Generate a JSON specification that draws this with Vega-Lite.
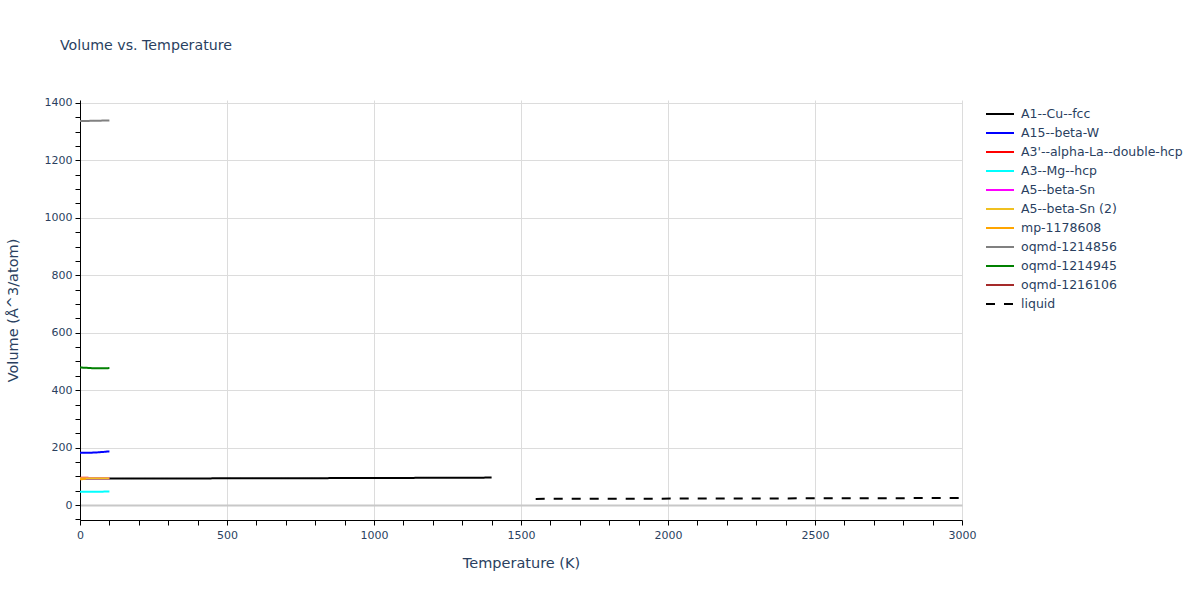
{
  "$schema": "https://vega.github.io/schema/vega-lite/v6.json",
  "width": 882,
  "height": 420,
  "autosize": {"type": "none"},
  "padding": {"left": 80, "top": 100, "right": 238, "bottom": 80},
  "background": "white",
  "config": {
    "view": {"stroke": null},
    "font": "DejaVu Sans"
  },
  "title": {
    "text": "Volume vs. Temperature",
    "anchor": "start",
    "frame": "group",
    "dx": -20,
    "offset": 44,
    "fontSize": 14.2,
    "fontWeight": "normal",
    "font": "DejaVu Sans",
    "color": "#2a3f5f"
  },
  "data": {
    "values": [
      {"name": "A1--Cu--fcc", "T": 0, "V": 92.0},
      {"name": "A1--Cu--fcc", "T": 100, "V": 92.3},
      {"name": "A1--Cu--fcc", "T": 300, "V": 92.6},
      {"name": "A1--Cu--fcc", "T": 500, "V": 93.0},
      {"name": "A1--Cu--fcc", "T": 700, "V": 93.4},
      {"name": "A1--Cu--fcc", "T": 900, "V": 93.9},
      {"name": "A1--Cu--fcc", "T": 1100, "V": 94.5},
      {"name": "A1--Cu--fcc", "T": 1300, "V": 95.2},
      {"name": "A1--Cu--fcc", "T": 1400, "V": 95.6},
      {"name": "A15--beta-W", "T": 0, "V": 182.0},
      {"name": "A15--beta-W", "T": 20, "V": 182.0},
      {"name": "A15--beta-W", "T": 40, "V": 182.4},
      {"name": "A15--beta-W", "T": 60, "V": 183.4},
      {"name": "A15--beta-W", "T": 80, "V": 185.0},
      {"name": "A15--beta-W", "T": 100, "V": 187.0},
      {"name": "A3'--alpha-La--double-hcp", "T": 0, "V": 95.5},
      {"name": "A3'--alpha-La--double-hcp", "T": 15, "V": 95.2},
      {"name": "A3'--alpha-La--double-hcp", "T": 30, "V": 94.6},
      {"name": "A3--Mg--hcp", "T": 0, "V": 46.5},
      {"name": "A3--Mg--hcp", "T": 50, "V": 46.6},
      {"name": "A3--Mg--hcp", "T": 100, "V": 46.9},
      {"name": "A5--beta-Sn", "T": 0, "V": 93.5},
      {"name": "A5--beta-Sn", "T": 50, "V": 93.5},
      {"name": "A5--beta-Sn", "T": 100, "V": 93.6},
      {"name": "A5--beta-Sn (2)", "T": 0, "V": 93.5},
      {"name": "A5--beta-Sn (2)", "T": 50, "V": 93.5},
      {"name": "A5--beta-Sn (2)", "T": 100, "V": 93.6},
      {"name": "mp-1178608", "T": 0, "V": 89.5},
      {"name": "mp-1178608", "T": 10, "V": 90.5},
      {"name": "mp-1178608", "T": 20, "V": 91.8},
      {"name": "oqmd-1214856", "T": 0, "V": 1337.0},
      {"name": "oqmd-1214856", "T": 50, "V": 1337.5},
      {"name": "oqmd-1214856", "T": 100, "V": 1339.0},
      {"name": "oqmd-1214945", "T": 0, "V": 479.0},
      {"name": "oqmd-1214945", "T": 20, "V": 477.8},
      {"name": "oqmd-1214945", "T": 40, "V": 476.6},
      {"name": "oqmd-1214945", "T": 60, "V": 476.0},
      {"name": "oqmd-1214945", "T": 80, "V": 476.0},
      {"name": "oqmd-1214945", "T": 100, "V": 476.8},
      {"name": "oqmd-1216106", "T": 0, "V": 93.5},
      {"name": "liquid", "T": 1550, "V": 21.5},
      {"name": "liquid", "T": 1800, "V": 22.0},
      {"name": "liquid", "T": 2100, "V": 22.6},
      {"name": "liquid", "T": 2400, "V": 23.2},
      {"name": "liquid", "T": 2700, "V": 23.9},
      {"name": "liquid", "T": 3000, "V": 24.6}
    ]
  },
  "mark": {"type": "line", "strokeWidth": 2, "clip": true},
  "encoding": {
    "x": {
      "field": "T",
      "type": "quantitative",
      "scale": {"domain": [0, 3000], "nice": false, "zero": false},
      "axis": {
        "title": "Temperature (K)",
        "values": [0, 100, 200, 300, 400, 500, 600, 700, 800, 900, 1000, 1100, 1200, 1300, 1400, 1500, 1600, 1700, 1800, 1900, 2000, 2100, 2200, 2300, 2400, 2500, 2600, 2700, 2800, 2900, 3000],
        "labelExpr": "datum.value % 500 === 0 ? datum.label : ''",
        "format": "d",
        "gridColor": "#dcdcdc",
        "gridOpacity": {"condition": {"test": "datum.value % 500 === 0", "value": 1}, "value": 0},
        "domainColor": "black",
        "tickColor": "black",
        "tickSize": 5,
        "labelFont": "DejaVu Sans",
        "labelFontSize": 11,
        "labelColor": "#2a3f5f",
        "labelPadding": 4,
        "labelFlush": false,
        "titleFont": "DejaVu Sans",
        "titleFontSize": 14.5,
        "titleFontWeight": "normal",
        "titleColor": "#2a3f5f",
        "titlePadding": 16
      }
    },
    "y": {
      "field": "V",
      "type": "quantitative",
      "scale": {"domain": [-52, 1410], "nice": false, "zero": false},
      "axis": {
        "title": "Volume (Å^3/atom)",
        "values": [-50, 0, 50, 100, 150, 200, 250, 300, 350, 400, 450, 500, 550, 600, 650, 700, 750, 800, 850, 900, 950, 1000, 1050, 1100, 1150, 1200, 1250, 1300, 1350, 1400],
        "labelExpr": "datum.value % 200 === 0 ? datum.label : ''",
        "format": "d",
        "gridColor": {"condition": {"test": "datum.value === 0", "value": "#c8c8c8"}, "value": "#dcdcdc"},
        "gridWidth": {"condition": {"test": "datum.value === 0", "value": 2}, "value": 1},
        "gridOpacity": {"condition": {"test": "datum.value % 200 === 0", "value": 1}, "value": 0},
        "domainColor": "black",
        "tickColor": "black",
        "tickSize": 5,
        "labelFont": "DejaVu Sans",
        "labelFontSize": 11,
        "labelColor": "#2a3f5f",
        "labelPadding": 3,
        "titleFont": "DejaVu Sans",
        "titleFontSize": 14.5,
        "titleFontWeight": "normal",
        "titleColor": "#2a3f5f",
        "titlePadding": 24
      }
    },
    "color": {
      "field": "name",
      "type": "nominal",
      "scale": {
        "domain": ["A1--Cu--fcc", "A15--beta-W", "A3'--alpha-La--double-hcp", "A3--Mg--hcp", "A5--beta-Sn", "A5--beta-Sn (2)", "mp-1178608", "oqmd-1214856", "oqmd-1214945", "oqmd-1216106", "liquid"],
        "range": ["black", "blue", "red", "cyan", "magenta", "#f0c020", "orange", "gray", "green", "brown", "black"]
      },
      "legend": {
        "title": null,
        "orient": "none",
        "legendX": 905,
        "legendY": 6.5,
        "symbolType": "stroke",
        "symbolSize": 784,
        "symbolStrokeWidth": 2,
        "rowPadding": 4,
        "labelFont": "DejaVu Sans",
        "labelFontSize": 12.5,
        "labelColor": "#2a3f5f",
        "labelOffset": 6,
        "labelLimit": 300,
        "clipHeight": 15
      }
    },
    "strokeDash": {
      "field": "name",
      "type": "nominal",
      "scale": {
        "domain": ["A1--Cu--fcc", "A15--beta-W", "A3'--alpha-La--double-hcp", "A3--Mg--hcp", "A5--beta-Sn", "A5--beta-Sn (2)", "mp-1178608", "oqmd-1214856", "oqmd-1214945", "oqmd-1216106", "liquid"],
        "range": [[1, 0], [1, 0], [1, 0], [1, 0], [1, 0], [1, 0], [1, 0], [1, 0], [1, 0], [1, 0], [9, 9]]
      }
    },
    "order": {"field": "T", "type": "quantitative"}
  }
}
